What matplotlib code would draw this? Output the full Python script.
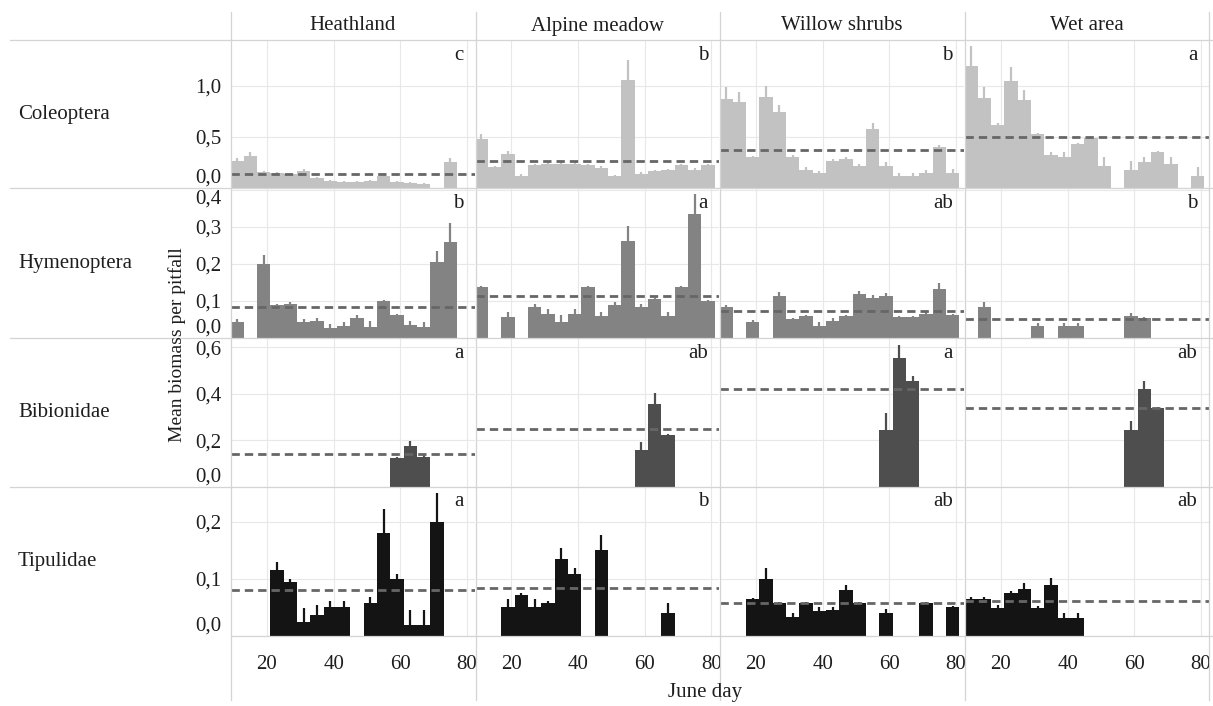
import numpy as np
import matplotlib
matplotlib.use("Agg")
import matplotlib.pyplot as plt
from matplotlib.lines import Line2D

N = np.nan

habitats = ["Heathland", "Alpine meadow", "Willow shrubs", "Wet area"]
taxa = ["Coleoptera", "Hymenoptera", "Bibionidae", "Tipulidae"]
days = np.arange(11, 80, 4)  # centre of each 4-day period

# mean biomass per pitfall, one list per habitat (heath, alpine, willow, wet)
coleoptera_mean = [
    [0.26, 0.31, 0.16, 0.15, 0.14, 0.17, 0.10, 0.07, 0.06, 0.06, 0.07, 0.12, 0.06, 0.05, 0.04, N, 0.25, N],
    [0.48, 0.21, 0.33, 0.12, 0.23, 0.24, 0.24, 0.24, 0.23, 0.20, 0.12, 1.06, 0.14, 0.17, 0.18, 0.23, 0.18, 0.23],
    [0.87, 0.84, 0.30, 0.89, 0.74, 0.30, 0.18, 0.15, 0.26, 0.28, 0.22, 0.575, 0.22, 0.12, 0.12, 0.15, 0.40, 0.15],
    [1.20, 0.885, 0.62, 1.05, 0.86, 0.525, 0.32, 0.30, 0.43, 0.49, 0.22, N, 0.18, 0.25, 0.35, 0.24, N, 0.12],
]
coleoptera_se = [
    [0.03, 0.04, 0.01, 0.01, 0.01, 0.02, 0.01, 0.01, 0.01, 0.01, 0.01, 0.01, 0.01, 0.01, 0.01, N, 0.04, N],
    [0.05, 0.01, 0.03, 0.02, 0.01, 0.01, 0.01, 0.01, 0.01, 0.02, 0.01, 0.19, 0.02, 0.01, 0.01, 0.01, 0.02, 0.01],
    [0.12, 0.10, 0.01, 0.11, 0.07, 0.02, 0.03, 0.02, 0.02, 0.02, 0.02, 0.065, 0.03, 0.03, 0.03, 0.03, 0.02, 0.04],
    [0.19, 0.10, 0.02, 0.14, 0.10, 0.01, 0.03, 0.05, 0.01, 0.02, 0.08, N, 0.08, 0.05, 0.01, 0.06, N, 0.09],
]
hymenoptera_mean = [
    [0.044, N, 0.20, 0.09, 0.093, 0.042, 0.045, 0.027, 0.032, 0.054, 0.03, 0.10, 0.063, 0.035, 0.03, 0.205, 0.26, N],
    [0.137, N, 0.056, N, 0.083, 0.065, 0.044, 0.065, 0.137, 0.06, 0.089, 0.263, 0.085, 0.105, 0.06, 0.137, 0.335, 0.10],
    [0.085, N, 0.044, N, 0.114, 0.051, 0.06, 0.033, 0.045, 0.06, 0.119, 0.108, 0.114, 0.056, 0.056, 0.065, 0.132, 0.062],
    [N, 0.085, N, N, N, 0.033, N, 0.033, 0.033, N, N, N, 0.06, 0.053, N, N, N, N],
]
hymenoptera_se = [
    [0.008, N, 0.025, 0.003, 0.003, 0.008, 0.01, 0.012, 0.01, 0.008, 0.015, 0.003, 0.003, 0.01, 0.014, 0.03, 0.05, N],
    [0.003, N, 0.013, N, 0.009, 0.012, 0.018, 0.012, 0.003, 0.01, 0.007, 0.04, 0.007, 0.003, 0.01, 0.003, 0.055, 0.003],
    [0.003, N, 0.004, N, 0.009, 0.003, 0.003, 0.011, 0.009, 0.003, 0.007, 0.007, 0.007, 0.003, 0.003, 0.004, 0.017, 0.003],
    [N, 0.013, N, N, N, 0.007, N, 0.007, 0.007, N, N, N, 0.007, 0.003, N, N, N, N],
]
bibionidae_mean = [
    [N] * 12 + [0.126, 0.176, 0.13] + [N] * 3,
    [N] * 12 + [0.16, 0.357, 0.223] + [N] * 3,
    [N] * 12 + [0.245, 0.552, 0.455] + [N] * 3,
    [N] * 12 + [0.243, 0.42, 0.338] + [N] * 3,
]
bibionidae_se = [
    [N] * 12 + [0.005, 0.02, 0.01] + [N] * 3,
    [N] * 12 + [0.035, 0.048, 0.005] + [N] * 3,
    [N] * 12 + [0.075, 0.06, 0.02] + [N] * 3,
    [N] * 12 + [0.04, 0.035, 0.005] + [N] * 3,
]
tipulidae_mean = [
    [N, N, N, 0.116, 0.094, 0.025, 0.037, 0.05, 0.05, N, 0.058, 0.18, 0.10, 0.019, 0.019, 0.20, N, N],
    [N, N, 0.05, 0.072, 0.05, 0.058, 0.135, 0.109, N, 0.151, N, N, N, N, 0.04, N, N, N],
    [N, N, 0.064, 0.10, 0.058, 0.033, 0.058, 0.043, 0.045, 0.081, 0.058, N, 0.04, N, N, 0.058, N, 0.05],
    [0.064, 0.064, 0.049, 0.075, 0.082, 0.049, 0.089, 0.031, 0.031, N, N, N, N, N, N, N, N, N],
]
tipulidae_se = [
    [N, N, N, 0.014, 0.006, 0.024, 0.017, 0.012, 0.012, N, 0.011, 0.042, 0.009, 0.027, 0.027, 0.05, N, N],
    [N, N, 0.014, 0.003, 0.014, 0.003, 0.019, 0.01, N, 0.026, N, N, N, N, 0.017, N, N, N],
    [N, N, 0.002, 0.019, 0.002, 0.008, 0.002, 0.008, 0.006, 0.009, 0.002, N, 0.007, N, N, 0.002, N, 0.002],
    [0.005, 0.005, 0.006, 0.003, 0.01, 0.004, 0.012, 0.01, 0.01, N, N, N, N, N, N, N, N, N],
]

# overall season mean (dashed line) and significance letters
overall_mean = [
    [0.135, 0.265, 0.37, 0.50],
    [0.085, 0.114, 0.074, 0.051],
    [0.143, 0.248, 0.42, 0.338],
    [0.081, 0.084, 0.057, 0.062],
]
letters = [
    ["c", "b", "b", "a"],
    ["b", "a", "ab", "b"],
    ["a", "ab", "a", "ab"],
    ["a", "b", "ab", "ab"],
]

means = [coleoptera_mean, hymenoptera_mean, bibionidae_mean, tipulidae_mean]
ses = [coleoptera_se, hymenoptera_se, bibionidae_se, tipulidae_se]
bar_colors = ["#c2c2c2", "#838383", "#4e4e4e", "#141414"]
y_tops = [1.45, 0.405, 0.64, 0.261]
y_ticks = [[0, 0.5, 1.0], [0, 0.1, 0.2, 0.3, 0.4], [0, 0.2, 0.4, 0.6], [0, 0.1, 0.2]]
x_ticks = [20, 40, 60, 80]

W, H = 1213, 706
plt.rcParams["font.family"] = ["Liberation Serif", "DejaVu Serif"]
plt.rcParams["lines.scale_dashes"] = False
fig = plt.figure(figsize=(W / 100, H / 100), dpi=100)

col_left = [231, 475.5, 720, 965]
col_w = 243.5
row_top = [40, 188, 338, 487]
row_bot = [188, 338, 487, 636]
txt = "#1e1e1e"
sep = "#d4d4d4"

for r in range(4):
    for c in range(4):
        ax = fig.add_axes([col_left[c] / W, 1 - row_bot[r] / H, col_w / W, (row_bot[r] - row_top[r]) / H])
        m = np.array(means[r][c], dtype=float)
        s = np.array(ses[r][c], dtype=float)
        ok = ~np.isnan(m)
        ax.bar(days[ok], m[ok], width=4, color=bar_colors[r], linewidth=0, zorder=2)
        ax.errorbar(days[ok], m[ok], yerr=[np.zeros(ok.sum()), s[ok]], fmt="none",
                    ecolor=bar_colors[r], elinewidth=1.6, capsize=0, zorder=2)
        ax.axhline(overall_mean[r][c], color="#666666", lw=2.0, dashes=(6.0, 3.6), zorder=3)
        ax.set_xlim(9.2, 82.3)
        ax.set_ylim(0, y_tops[r])
        ax.set_xticks(x_ticks)
        ax.set_yticks(y_ticks[r])
        ax.grid(True, color="#e8e8e8", lw=0.8)
        ax.set_axisbelow(True)
        for sp in ax.spines.values():
            sp.set_visible(False)
        ax.tick_params(length=0, labelsize=15, labelcolor=txt)
        ax.tick_params(axis="y", pad=7)
        ax.tick_params(axis="x", pad=14)
        if c == 0:
            labs = ax.set_yticklabels([f"{t:.1f}".replace(".", ",") for t in y_ticks[r]])
            labs[0].set_va("bottom")
            if y_ticks[r][-1] / y_tops[r] > 0.97:
                labs[-1].set_va("top")
        else:
            ax.set_yticklabels([])
        if r == 3:
            ax.set_xticklabels([str(t) for t in x_ticks])
        else:
            ax.set_xticklabels([])
        ax.text(1 - 11 / col_w, 1 - 15 / (row_bot[r] - row_top[r]), letters[r][c],
                transform=ax.transAxes, ha="right", va="center", fontsize=15, color=txt)

# separators of the table layout
for x in col_left + [1209]:
    fig.add_artist(Line2D([x / W, x / W], [1 - 12 / H, 1 - 700 / H], color=sep, lw=0.9))
for y in row_top:
    fig.add_artist(Line2D([10 / W, 1], [1 - y / H, 1 - y / H], color=sep, lw=0.9))
fig.add_artist(Line2D([231 / W, 1], [1 - 636 / H, 1 - 636 / H], color=sep, lw=0.9))

for c, hab in enumerate(habitats):
    fig.text((col_left[c] + col_w / 2) / W, 1 - 26 / H, hab, ha="center", va="center",
             fontsize=15, color=txt)
for r, taxon in enumerate(taxa):
    fig.text(18 / W, 1 - (row_top[r] + row_bot[r]) / 2 / H, taxon, ha="left", va="center",
             fontsize=15, color=txt)

fig.text(177 / W, 1 - 345 / H, "Mean biomass per pitfall", rotation=90, ha="center",
         va="center", fontsize=14, color=txt)
fig.text(705 / W, 1 - 692 / H, "June day", ha="center", va="center", fontsize=15, color=txt)

fig.savefig("out.png", dpi=100, facecolor="white")
